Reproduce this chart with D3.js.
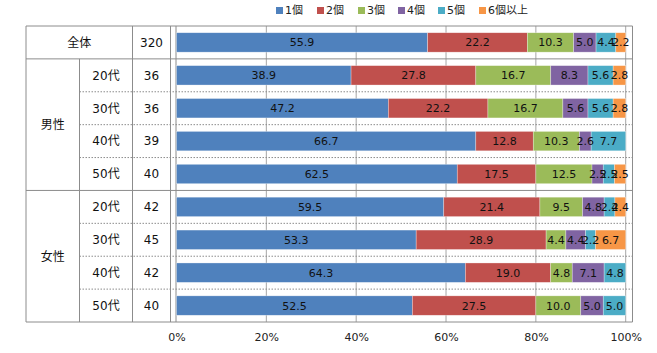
<!DOCTYPE html>
<html><head><meta charset="utf-8">
<script src="https://cdn.jsdelivr.net/npm/d3@7"></script>
<style>body{margin:0;background:#fff}svg{display:block}</style>
</head><body><svg id="c" width="657" height="353"></svg>
<script>
const rowGroup = ["全体","男性","男性","男性","男性","女性","女性","女性","女性"];
const rowAge = ["","20代","30代","40代","50代","20代","30代","40代","50代"];
const rowN = [320,36,36,39,40,42,45,42,40];
const seriesNames = ["1個","2個","3個","4個","5個","6個以上"];
const s1 = [55.9,38.9,47.2,66.7,62.5,59.5,53.3,64.3,52.5];
const s2 = [22.2,27.8,22.2,12.8,17.5,21.4,28.9,19.0,27.5];
const s3 = [10.3,16.7,16.7,10.3,12.5,9.5,4.4,4.8,10.0];
const s4 = [5.0,8.3,5.6,2.6,2.5,4.8,4.4,7.1,5.0];
const s5 = [4.4,5.6,5.6,7.7,2.5,2.4,2.2,4.8,5.0];
const s6 = [2.2,2.8,2.8,0,2.5,2.4,6.7,0,0];
const tickVals = [0,20,40,60,80,100];
const colors = ["#4F81BD","#C0504D","#9BBB59","#8064A2","#4BACC6","#F79646"];

(function(){
const series = [s1,s2,s3,s4,s5,s6];
const svg = d3.select("#c");
const FONT = "'DejaVu Sans','Noto Sans CJK JP',sans-serif";
const topY = 26, bottomY = 322, leftX = 26, rightX = 632.5;
const colX = [26, 79.5, 132.5, 170.5];
const plotL = 176;
const x = d3.scaleLinear().domain([0,100]).range([176.5, 625.7]);
const rows = d3.range(rowN.length);
const y = d3.scaleBand().domain(rows).range([topY,bottomY]).paddingInner(0.41).paddingOuter(0.205);
const step = y.step();
const line = "#8c8c8c";

// gridlines
svg.append("g").selectAll("line").data(tickVals.slice(1)).join("line")
  .attr("x1",d=>x(d)).attr("x2",d=>x(d)).attr("y1",topY).attr("y2",bottomY)
  .attr("stroke","#a6a6a6").attr("stroke-width",1);

// horizontal separators
const hs = svg.append("g");
for (let i=0;i<=rows.length;i++){
  const yy = topY + i*step;
  let solid = (i===0||i===1||i===5||i===rows.length);
  hs.append("line").attr("x1", solid?leftX:colX[1]).attr("x2",rightX)
    .attr("y1",yy).attr("y2",yy).attr("stroke",line).attr("stroke-width",1)
    .attr("stroke-dasharray", solid?null:"1.5,1.5");
}
// vertical lines
const vs = svg.append("g");
[[colX[0],topY],[colX[1],topY+step],[colX[2],topY],[colX[3],topY],[plotL,topY],[rightX,topY]].forEach(([xx,y0])=>{
  vs.append("line").attr("x1",xx).attr("x2",xx).attr("y1",y0).attr("y2",bottomY)
    .attr("stroke",line).attr("stroke-width",1);
});

// stacked bars
const stack = rows.map(r=>{
  const vals = series.map(s=>s[r]);
  const tot = d3.sum(vals);
  let acc=0;
  return vals.map((v,k)=>{const a=acc; acc+=v/tot*100; return {r,k,v,x0:a,x1:acc};});
});
const bars = svg.append("g");
stack.forEach(segs=>{
  segs.forEach(s=>{
    if(s.v<=0) return;
    bars.append("rect").attr("x",x(s.x0)).attr("width",x(s.x1)-x(s.x0))
      .attr("y",y(s.r)).attr("height",y.bandwidth()).attr("fill",colors[s.k])
      .attr("stroke","#ffffff").attr("stroke-opacity",0.5).attr("stroke-width",0.6);
  });
});
const labs = svg.append("g");
stack.forEach(segs=>{
  segs.forEach(s=>{
    if(s.v<=0) return;
    labs.append("text").attr("x",(x(s.x0)+x(s.x1))/2).attr("y",y(s.r)+y.bandwidth()/2)
      .attr("dy","0.36em").attr("text-anchor","middle").attr("font-family",FONT)
      .attr("font-size",11).attr("fill","#111").text(s.v.toFixed(1));
  });
});

// table text
const tt = svg.append("g").attr("font-family",FONT).attr("font-size",12).attr("fill","#111").attr("text-anchor","middle");
tt.append("text").attr("x",(colX[0]+colX[2])/2).attr("y",topY+step/2).attr("dy","0.36em").text(rowGroup[0]);
["男性","女性"].forEach(g=>{
  const idx = rows.filter(r=>rowGroup[r]===g);
  const yc = topY + (d3.min(idx)+d3.max(idx)+1)/2*step;
  tt.append("text").attr("x",(colX[0]+colX[1])/2).attr("y",yc).attr("dy","0.36em").text(g);
});
rows.forEach(r=>{
  if(rowAge[r]) tt.append("text").attr("x",(colX[1]+colX[2])/2).attr("y",topY+(r+0.5)*step).attr("dy","0.36em").text(rowAge[r]);
  tt.append("text").attr("x",(colX[2]+colX[3])/2).attr("y",topY+(r+0.5)*step).attr("dy","0.36em").text(rowN[r]);
});

// axis
const ax = svg.append("g").attr("transform",`translate(0,${bottomY})`)
  .call(d3.axisBottom(x).tickValues(tickVals).tickFormat(d=>d+"%").tickSize(0).tickPadding(11));
ax.select(".domain").remove();
ax.selectAll("text").attr("font-family",FONT).attr("font-size",11).attr("fill","#222");

// legend
const lg = svg.append("g").attr("font-family",FONT).attr("font-size",11);
const lx = [276,317,358,398,438,479];
seriesNames.forEach((n,i)=>{
  lg.append("rect").attr("x",lx[i]).attr("y",7).attr("width",7).attr("height",7).attr("fill",colors[i]);
  lg.append("text").attr("x",lx[i]+9).attr("y",10.5).attr("dy","0.36em").attr("fill","#222").text(n);
});
})();
</script></body></html>
